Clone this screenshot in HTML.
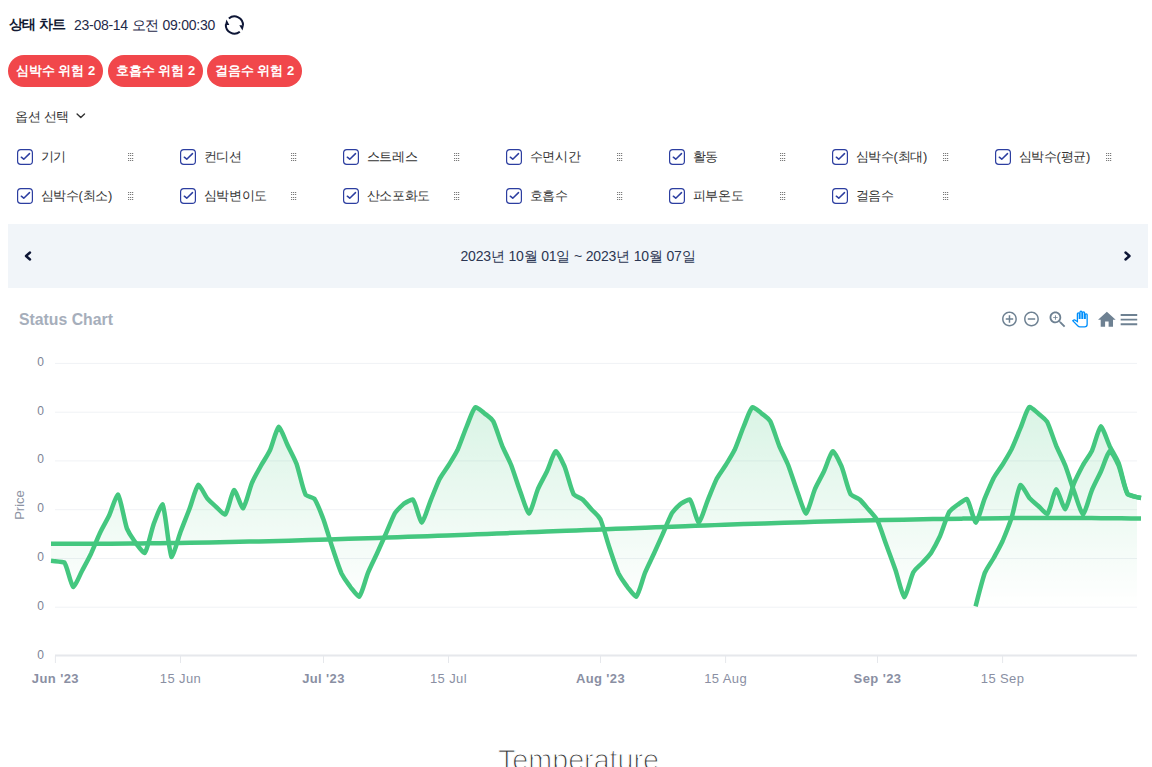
<!DOCTYPE html>
<html><head><meta charset="utf-8">
<style>
*{box-sizing:border-box;margin:0;padding:0}
html,body{width:1152px;height:767px;overflow:hidden;background:#fff}
body{font-family:"Liberation Sans",sans-serif;color:#1e293b;position:relative}
.abs{position:absolute;white-space:nowrap}
.title{left:9px;top:15px;font-size:14px;letter-spacing:-0.7px;font-weight:bold;color:#121a33;line-height:18px}
.date{left:74px;top:16px;font-size:14px;letter-spacing:-0.27px;color:#1f2a4a;line-height:18px}
.chip{position:absolute;top:55px;height:32px;border-radius:16px;background:#f1474b;color:#fff;font-weight:bold;font-size:13px;line-height:32px;text-align:center;white-space:nowrap}
.opt{left:15px;top:108px;font-size:13px;letter-spacing:-0.35px;color:#333;line-height:18px}
.lbl{position:absolute;font-size:13px;color:#333;line-height:18px;white-space:nowrap}
.bar{left:8px;top:224px;width:1140px;height:64px;background:#f1f5f9}
.drange{left:2px;width:1152px;top:247px;text-align:center;font-size:14px;letter-spacing:-0.17px;color:#2c3652;line-height:18px}
.ctitle{left:19px;top:311px;font-size:15.8px;font-weight:bold;color:#a6aebb;line-height:18px}
.temp{left:498px;top:744px;font-size:28.7px;color:#3a3a3a;-webkit-text-stroke:1.1px #fff;line-height:32px}
</style></head><body>
<div class="abs title">상태 차트</div>
<div class="abs date">23-08-14 오전 09:00:30</div>
<svg class="abs" style="left:222px;top:12px" width="25" height="26" viewBox="222 12 25 26">
<path d="M228.87,18.41 A8.6,8.6 0 0 1 242.99,25.45" fill="none" stroke="#0e1636" stroke-width="2"/>
<polygon points="239.3,25.2 243.9,25.2 242.5,30.6" fill="#0e1636"/>
<path d="M239.81,31.68 A8.6,8.6 0 0 1 225.81,24.55" fill="none" stroke="#0e1636" stroke-width="2"/>
<polygon points="225.0,24.9 229.3,24.9 226.5,19.5" fill="#0e1636"/>
</svg>
<div class="chip" style="left:8px;width:95px">심박수 위험 2</div>
<div class="chip" style="left:108px;width:95px">호흡수 위험 2</div>
<div class="chip" style="left:207px;width:95px">걸음수 위험 2</div>
<div class="abs opt">옵션 선택</div>
<svg class="abs" style="left:74px;top:110px" width="14" height="12" viewBox="74 110 14 12"><polyline points="77.1,113.9 80.8,117.5 84.5,113.9" fill="none" stroke="#333" stroke-width="1.4" stroke-linecap="round" stroke-linejoin="round"/></svg>
<svg class="abs" style="left:16px;top:148px" width="18" height="18" viewBox="-1 -1 18 18"><rect x="0.6" y="0.6" width="14.8" height="14.8" rx="3.2" fill="none" stroke="#2c3ea0" stroke-width="1.2"/><polyline points="4.3,8.2 6.75,10.2 12.5,4.6" fill="none" stroke="#2c3ea0" stroke-width="1.5" stroke-linecap="round" stroke-linejoin="round"/></svg><div class="lbl" style="left:40.5px;top:148px;letter-spacing:-0.3px">기기</div><svg class="abs" style="left:127px;top:152px" width="8" height="10" viewBox="0 0 8 10" fill="#7a7a7a"><rect x="1" y="1" width="1.2" height="1"/><rect x="1" y="3" width="1.2" height="1"/><rect x="1" y="6" width="1.2" height="1"/><rect x="1" y="8" width="1.2" height="1"/><rect x="3" y="1" width="1.2" height="1"/><rect x="3" y="3" width="1.2" height="1"/><rect x="3" y="6" width="1.2" height="1"/><rect x="3" y="8" width="1.2" height="1"/><rect x="5" y="1" width="1.2" height="1"/><rect x="5" y="3" width="1.2" height="1"/><rect x="5" y="6" width="1.2" height="1"/><rect x="5" y="8" width="1.2" height="1"/></svg><svg class="abs" style="left:179px;top:148px" width="18" height="18" viewBox="-1 -1 18 18"><rect x="0.6" y="0.6" width="14.8" height="14.8" rx="3.2" fill="none" stroke="#2c3ea0" stroke-width="1.2"/><polyline points="4.3,8.2 6.75,10.2 12.5,4.6" fill="none" stroke="#2c3ea0" stroke-width="1.5" stroke-linecap="round" stroke-linejoin="round"/></svg><div class="lbl" style="left:203.5px;top:148px;letter-spacing:-0.3px">컨디션</div><svg class="abs" style="left:290px;top:152px" width="8" height="10" viewBox="0 0 8 10" fill="#7a7a7a"><rect x="1" y="1" width="1.2" height="1"/><rect x="1" y="3" width="1.2" height="1"/><rect x="1" y="6" width="1.2" height="1"/><rect x="1" y="8" width="1.2" height="1"/><rect x="3" y="1" width="1.2" height="1"/><rect x="3" y="3" width="1.2" height="1"/><rect x="3" y="6" width="1.2" height="1"/><rect x="3" y="8" width="1.2" height="1"/><rect x="5" y="1" width="1.2" height="1"/><rect x="5" y="3" width="1.2" height="1"/><rect x="5" y="6" width="1.2" height="1"/><rect x="5" y="8" width="1.2" height="1"/></svg><svg class="abs" style="left:342px;top:148px" width="18" height="18" viewBox="-1 -1 18 18"><rect x="0.6" y="0.6" width="14.8" height="14.8" rx="3.2" fill="none" stroke="#2c3ea0" stroke-width="1.2"/><polyline points="4.3,8.2 6.75,10.2 12.5,4.6" fill="none" stroke="#2c3ea0" stroke-width="1.5" stroke-linecap="round" stroke-linejoin="round"/></svg><div class="lbl" style="left:366.5px;top:148px;letter-spacing:-0.3px">스트레스</div><svg class="abs" style="left:453px;top:152px" width="8" height="10" viewBox="0 0 8 10" fill="#7a7a7a"><rect x="1" y="1" width="1.2" height="1"/><rect x="1" y="3" width="1.2" height="1"/><rect x="1" y="6" width="1.2" height="1"/><rect x="1" y="8" width="1.2" height="1"/><rect x="3" y="1" width="1.2" height="1"/><rect x="3" y="3" width="1.2" height="1"/><rect x="3" y="6" width="1.2" height="1"/><rect x="3" y="8" width="1.2" height="1"/><rect x="5" y="1" width="1.2" height="1"/><rect x="5" y="3" width="1.2" height="1"/><rect x="5" y="6" width="1.2" height="1"/><rect x="5" y="8" width="1.2" height="1"/></svg><svg class="abs" style="left:505px;top:148px" width="18" height="18" viewBox="-1 -1 18 18"><rect x="0.6" y="0.6" width="14.8" height="14.8" rx="3.2" fill="none" stroke="#2c3ea0" stroke-width="1.2"/><polyline points="4.3,8.2 6.75,10.2 12.5,4.6" fill="none" stroke="#2c3ea0" stroke-width="1.5" stroke-linecap="round" stroke-linejoin="round"/></svg><div class="lbl" style="left:529.5px;top:148px;letter-spacing:-0.3px">수면시간</div><svg class="abs" style="left:616px;top:152px" width="8" height="10" viewBox="0 0 8 10" fill="#7a7a7a"><rect x="1" y="1" width="1.2" height="1"/><rect x="1" y="3" width="1.2" height="1"/><rect x="1" y="6" width="1.2" height="1"/><rect x="1" y="8" width="1.2" height="1"/><rect x="3" y="1" width="1.2" height="1"/><rect x="3" y="3" width="1.2" height="1"/><rect x="3" y="6" width="1.2" height="1"/><rect x="3" y="8" width="1.2" height="1"/><rect x="5" y="1" width="1.2" height="1"/><rect x="5" y="3" width="1.2" height="1"/><rect x="5" y="6" width="1.2" height="1"/><rect x="5" y="8" width="1.2" height="1"/></svg><svg class="abs" style="left:668px;top:148px" width="18" height="18" viewBox="-1 -1 18 18"><rect x="0.6" y="0.6" width="14.8" height="14.8" rx="3.2" fill="none" stroke="#2c3ea0" stroke-width="1.2"/><polyline points="4.3,8.2 6.75,10.2 12.5,4.6" fill="none" stroke="#2c3ea0" stroke-width="1.5" stroke-linecap="round" stroke-linejoin="round"/></svg><div class="lbl" style="left:692.5px;top:148px;letter-spacing:-0.3px">활동</div><svg class="abs" style="left:779px;top:152px" width="8" height="10" viewBox="0 0 8 10" fill="#7a7a7a"><rect x="1" y="1" width="1.2" height="1"/><rect x="1" y="3" width="1.2" height="1"/><rect x="1" y="6" width="1.2" height="1"/><rect x="1" y="8" width="1.2" height="1"/><rect x="3" y="1" width="1.2" height="1"/><rect x="3" y="3" width="1.2" height="1"/><rect x="3" y="6" width="1.2" height="1"/><rect x="3" y="8" width="1.2" height="1"/><rect x="5" y="1" width="1.2" height="1"/><rect x="5" y="3" width="1.2" height="1"/><rect x="5" y="6" width="1.2" height="1"/><rect x="5" y="8" width="1.2" height="1"/></svg><svg class="abs" style="left:831px;top:148px" width="18" height="18" viewBox="-1 -1 18 18"><rect x="0.6" y="0.6" width="14.8" height="14.8" rx="3.2" fill="none" stroke="#2c3ea0" stroke-width="1.2"/><polyline points="4.3,8.2 6.75,10.2 12.5,4.6" fill="none" stroke="#2c3ea0" stroke-width="1.5" stroke-linecap="round" stroke-linejoin="round"/></svg><div class="lbl" style="left:855.5px;top:148px;letter-spacing:-0.3px">심박수(최대)</div><svg class="abs" style="left:942px;top:152px" width="8" height="10" viewBox="0 0 8 10" fill="#7a7a7a"><rect x="1" y="1" width="1.2" height="1"/><rect x="1" y="3" width="1.2" height="1"/><rect x="1" y="6" width="1.2" height="1"/><rect x="1" y="8" width="1.2" height="1"/><rect x="3" y="1" width="1.2" height="1"/><rect x="3" y="3" width="1.2" height="1"/><rect x="3" y="6" width="1.2" height="1"/><rect x="3" y="8" width="1.2" height="1"/><rect x="5" y="1" width="1.2" height="1"/><rect x="5" y="3" width="1.2" height="1"/><rect x="5" y="6" width="1.2" height="1"/><rect x="5" y="8" width="1.2" height="1"/></svg><svg class="abs" style="left:994px;top:148px" width="18" height="18" viewBox="-1 -1 18 18"><rect x="0.6" y="0.6" width="14.8" height="14.8" rx="3.2" fill="none" stroke="#2c3ea0" stroke-width="1.2"/><polyline points="4.3,8.2 6.75,10.2 12.5,4.6" fill="none" stroke="#2c3ea0" stroke-width="1.5" stroke-linecap="round" stroke-linejoin="round"/></svg><div class="lbl" style="left:1018.5px;top:148px;letter-spacing:-0.3px">심박수(평균)</div><svg class="abs" style="left:1105px;top:152px" width="8" height="10" viewBox="0 0 8 10" fill="#7a7a7a"><rect x="1" y="1" width="1.2" height="1"/><rect x="1" y="3" width="1.2" height="1"/><rect x="1" y="6" width="1.2" height="1"/><rect x="1" y="8" width="1.2" height="1"/><rect x="3" y="1" width="1.2" height="1"/><rect x="3" y="3" width="1.2" height="1"/><rect x="3" y="6" width="1.2" height="1"/><rect x="3" y="8" width="1.2" height="1"/><rect x="5" y="1" width="1.2" height="1"/><rect x="5" y="3" width="1.2" height="1"/><rect x="5" y="6" width="1.2" height="1"/><rect x="5" y="8" width="1.2" height="1"/></svg><svg class="abs" style="left:16px;top:187px" width="18" height="18" viewBox="-1 -1 18 18"><rect x="0.6" y="0.6" width="14.8" height="14.8" rx="3.2" fill="none" stroke="#2c3ea0" stroke-width="1.2"/><polyline points="4.3,8.2 6.75,10.2 12.5,4.6" fill="none" stroke="#2c3ea0" stroke-width="1.5" stroke-linecap="round" stroke-linejoin="round"/></svg><div class="lbl" style="left:40.5px;top:187px;letter-spacing:-0.3px">심박수(최소)</div><svg class="abs" style="left:127px;top:191px" width="8" height="10" viewBox="0 0 8 10" fill="#7a7a7a"><rect x="1" y="1" width="1.2" height="1"/><rect x="1" y="3" width="1.2" height="1"/><rect x="1" y="6" width="1.2" height="1"/><rect x="1" y="8" width="1.2" height="1"/><rect x="3" y="1" width="1.2" height="1"/><rect x="3" y="3" width="1.2" height="1"/><rect x="3" y="6" width="1.2" height="1"/><rect x="3" y="8" width="1.2" height="1"/><rect x="5" y="1" width="1.2" height="1"/><rect x="5" y="3" width="1.2" height="1"/><rect x="5" y="6" width="1.2" height="1"/><rect x="5" y="8" width="1.2" height="1"/></svg><svg class="abs" style="left:179px;top:187px" width="18" height="18" viewBox="-1 -1 18 18"><rect x="0.6" y="0.6" width="14.8" height="14.8" rx="3.2" fill="none" stroke="#2c3ea0" stroke-width="1.2"/><polyline points="4.3,8.2 6.75,10.2 12.5,4.6" fill="none" stroke="#2c3ea0" stroke-width="1.5" stroke-linecap="round" stroke-linejoin="round"/></svg><div class="lbl" style="left:203.5px;top:187px;letter-spacing:-0.3px">심박변이도</div><svg class="abs" style="left:290px;top:191px" width="8" height="10" viewBox="0 0 8 10" fill="#7a7a7a"><rect x="1" y="1" width="1.2" height="1"/><rect x="1" y="3" width="1.2" height="1"/><rect x="1" y="6" width="1.2" height="1"/><rect x="1" y="8" width="1.2" height="1"/><rect x="3" y="1" width="1.2" height="1"/><rect x="3" y="3" width="1.2" height="1"/><rect x="3" y="6" width="1.2" height="1"/><rect x="3" y="8" width="1.2" height="1"/><rect x="5" y="1" width="1.2" height="1"/><rect x="5" y="3" width="1.2" height="1"/><rect x="5" y="6" width="1.2" height="1"/><rect x="5" y="8" width="1.2" height="1"/></svg><svg class="abs" style="left:342px;top:187px" width="18" height="18" viewBox="-1 -1 18 18"><rect x="0.6" y="0.6" width="14.8" height="14.8" rx="3.2" fill="none" stroke="#2c3ea0" stroke-width="1.2"/><polyline points="4.3,8.2 6.75,10.2 12.5,4.6" fill="none" stroke="#2c3ea0" stroke-width="1.5" stroke-linecap="round" stroke-linejoin="round"/></svg><div class="lbl" style="left:366.5px;top:187px;letter-spacing:-0.3px">산소포화도</div><svg class="abs" style="left:453px;top:191px" width="8" height="10" viewBox="0 0 8 10" fill="#7a7a7a"><rect x="1" y="1" width="1.2" height="1"/><rect x="1" y="3" width="1.2" height="1"/><rect x="1" y="6" width="1.2" height="1"/><rect x="1" y="8" width="1.2" height="1"/><rect x="3" y="1" width="1.2" height="1"/><rect x="3" y="3" width="1.2" height="1"/><rect x="3" y="6" width="1.2" height="1"/><rect x="3" y="8" width="1.2" height="1"/><rect x="5" y="1" width="1.2" height="1"/><rect x="5" y="3" width="1.2" height="1"/><rect x="5" y="6" width="1.2" height="1"/><rect x="5" y="8" width="1.2" height="1"/></svg><svg class="abs" style="left:505px;top:187px" width="18" height="18" viewBox="-1 -1 18 18"><rect x="0.6" y="0.6" width="14.8" height="14.8" rx="3.2" fill="none" stroke="#2c3ea0" stroke-width="1.2"/><polyline points="4.3,8.2 6.75,10.2 12.5,4.6" fill="none" stroke="#2c3ea0" stroke-width="1.5" stroke-linecap="round" stroke-linejoin="round"/></svg><div class="lbl" style="left:529.5px;top:187px;letter-spacing:-0.3px">호흡수</div><svg class="abs" style="left:616px;top:191px" width="8" height="10" viewBox="0 0 8 10" fill="#7a7a7a"><rect x="1" y="1" width="1.2" height="1"/><rect x="1" y="3" width="1.2" height="1"/><rect x="1" y="6" width="1.2" height="1"/><rect x="1" y="8" width="1.2" height="1"/><rect x="3" y="1" width="1.2" height="1"/><rect x="3" y="3" width="1.2" height="1"/><rect x="3" y="6" width="1.2" height="1"/><rect x="3" y="8" width="1.2" height="1"/><rect x="5" y="1" width="1.2" height="1"/><rect x="5" y="3" width="1.2" height="1"/><rect x="5" y="6" width="1.2" height="1"/><rect x="5" y="8" width="1.2" height="1"/></svg><svg class="abs" style="left:668px;top:187px" width="18" height="18" viewBox="-1 -1 18 18"><rect x="0.6" y="0.6" width="14.8" height="14.8" rx="3.2" fill="none" stroke="#2c3ea0" stroke-width="1.2"/><polyline points="4.3,8.2 6.75,10.2 12.5,4.6" fill="none" stroke="#2c3ea0" stroke-width="1.5" stroke-linecap="round" stroke-linejoin="round"/></svg><div class="lbl" style="left:692.5px;top:187px;letter-spacing:-0.3px">피부온도</div><svg class="abs" style="left:779px;top:191px" width="8" height="10" viewBox="0 0 8 10" fill="#7a7a7a"><rect x="1" y="1" width="1.2" height="1"/><rect x="1" y="3" width="1.2" height="1"/><rect x="1" y="6" width="1.2" height="1"/><rect x="1" y="8" width="1.2" height="1"/><rect x="3" y="1" width="1.2" height="1"/><rect x="3" y="3" width="1.2" height="1"/><rect x="3" y="6" width="1.2" height="1"/><rect x="3" y="8" width="1.2" height="1"/><rect x="5" y="1" width="1.2" height="1"/><rect x="5" y="3" width="1.2" height="1"/><rect x="5" y="6" width="1.2" height="1"/><rect x="5" y="8" width="1.2" height="1"/></svg><svg class="abs" style="left:831px;top:187px" width="18" height="18" viewBox="-1 -1 18 18"><rect x="0.6" y="0.6" width="14.8" height="14.8" rx="3.2" fill="none" stroke="#2c3ea0" stroke-width="1.2"/><polyline points="4.3,8.2 6.75,10.2 12.5,4.6" fill="none" stroke="#2c3ea0" stroke-width="1.5" stroke-linecap="round" stroke-linejoin="round"/></svg><div class="lbl" style="left:855.5px;top:187px;letter-spacing:-0.3px">걸음수</div><svg class="abs" style="left:942px;top:191px" width="8" height="10" viewBox="0 0 8 10" fill="#7a7a7a"><rect x="1" y="1" width="1.2" height="1"/><rect x="1" y="3" width="1.2" height="1"/><rect x="1" y="6" width="1.2" height="1"/><rect x="1" y="8" width="1.2" height="1"/><rect x="3" y="1" width="1.2" height="1"/><rect x="3" y="3" width="1.2" height="1"/><rect x="3" y="6" width="1.2" height="1"/><rect x="3" y="8" width="1.2" height="1"/><rect x="5" y="1" width="1.2" height="1"/><rect x="5" y="3" width="1.2" height="1"/><rect x="5" y="6" width="1.2" height="1"/><rect x="5" y="8" width="1.2" height="1"/></svg>
<div class="abs bar"></div>
<svg class="abs" style="left:20px;top:246px" width="16" height="20" viewBox="20 246 16 20"><polyline points="30,252.5 26,256 30,259.5" fill="none" stroke="#0e1636" stroke-width="2.4" stroke-linecap="round" stroke-linejoin="round"/></svg>
<svg class="abs" style="left:1120px;top:246px" width="16" height="20" viewBox="1120 246 16 20"><polyline points="1125.5,252.5 1129.5,256 1125.5,259.5" fill="none" stroke="#0e1636" stroke-width="2.4" stroke-linecap="round" stroke-linejoin="round"/></svg>
<div class="abs drange">2023년 10월 01일 ~ 2023년 10월 07일</div>
<div class="abs ctitle">Status Chart</div>
<svg class="abs" style="left:990px;top:300px" width="160" height="36" viewBox="990 300 160 36">
<g fill="#6e8192">
<path transform="translate(1000.6,310.1) scale(0.74)" d="M13 7h-2v4H7v2h4v4h2v-4h4v-2h-4V7zm-1-5C6.480 2 2 6.48 2 12s4.48 10 10 10 10-4.48 10-10S17.52 2 12 2zm0 18c-4.41 0-8-3.59-8-8s3.59-8 8-8 8 3.590 8 8-3.59 8-8 8z"/>
<path transform="translate(1022.6,310.1) scale(0.74)" d="M7 11v2h10v-2H7zm5-9C6.48 2 2 6.48 2 12s4.48 10 10 10 10-4.48 10-10S17.52 2 12 2zm0 18c-4.41 0-8-3.59-8-8s3.59-8 8-8 8 3.59 8 8-3.59 8-8 8z"/>
<g transform="translate(1046.85,308.85) scale(0.9)"><path d="M15.5 14h-.79l-.28-.27C15.41 12.59 16 11.11 16 9.5 16 5.91 13.09 3 9.5 3S3 5.91 3 9.5 5.91 16 9.5 16c1.61 0 3.09-.59 4.23-1.57l.27.28v.79l5 4.99L20.49 19l-4.99-5zm-6 0C7.01 14 5 11.99 5 9.5S7.01 5 9.5 5 14 7.01 14 9.5 11.99 14 9.5 14z"/><path d="M12 10h-2v2H9v-2H7V9h2V7h1v2h2v1z"/></g>
<path transform="translate(1096.3,309.2) scale(0.88)" d="M10 20v-6h4v6h5v-8h3L12 3 2 12h3v8z"/>
<path transform="translate(1117.9,308.6) scale(0.92)" d="M3 18h18v-2H3v2zm0-5h18v-2H3v2zm0-7v2h18V6H3z"/>
</g>
<path transform="translate(1072.2,311.2) scale(0.65)" fill="#fff" stroke="#008ffb" stroke-width="2" d="M23 5.5V20c0 2.2-1.8 4-4 4h-7.3c-1.08 0-2.1-.43-2.85-1.19L1 14.830s1.26-1.23 1.3-1.25c.22-.19.49-.29.79-.29.22 0 .42.06.6.16.04.01 4.31 2.46 4.31 2.46V4c0-.83.67-1.5 1.5-1.5S11 3.17 11 4v7h1V1.5c0-.83.67-1.5 1.5-1.5S15 .67 15 1.5V11h1V2.5c0-.83.67-1.5 1.5-1.5s1.5.67 1.5 1.5V11h1V5.5c0-.83.67-1.5 1.5-1.5s1.5.67 1.5 1.5z"/>
</svg>
<svg class="abs" style="left:0;top:0" width="1152" height="767" viewBox="0 0 1152 767">
<defs>
<linearGradient id="gM" x1="0" y1="407" x2="0" y2="606" gradientUnits="userSpaceOnUse">
<stop offset="0" stop-color="#333333"/>
<stop offset="1" stop-color="#000000"/>
</linearGradient>
<mask id="mF" maskUnits="userSpaceOnUse" x="0" y="0" width="1152" height="767"><rect x="51" y="380" width="1086" height="300" fill="url(#gM)"/></mask>
</defs>
<line x1="55" x2="1137" y1="363.4" y2="363.4" stroke="#f0f2f5" stroke-width="1"/><line x1="55" x2="1137" y1="412.2" y2="412.2" stroke="#f0f2f5" stroke-width="1"/><line x1="55" x2="1137" y1="460.9" y2="460.9" stroke="#f0f2f5" stroke-width="1"/><line x1="55" x2="1137" y1="509.7" y2="509.7" stroke="#f0f2f5" stroke-width="1"/><line x1="55" x2="1137" y1="558.5" y2="558.5" stroke="#f0f2f5" stroke-width="1"/><line x1="55" x2="1137" y1="607.2" y2="607.2" stroke="#f0f2f5" stroke-width="1"/>
<line x1="55" x2="1137" y1="655.5" y2="655.5" stroke="#e6e8ec" stroke-width="2.2"/>
<line x1="55.4" x2="55.4" y1="656" y2="663" stroke="#e6e8ec" stroke-width="1"/><line x1="180.5" x2="180.5" y1="656" y2="663" stroke="#e6e8ec" stroke-width="1"/><line x1="323.5" x2="323.5" y1="656" y2="663" stroke="#e6e8ec" stroke-width="1"/><line x1="448.5" x2="448.5" y1="656" y2="663" stroke="#e6e8ec" stroke-width="1"/><line x1="600.5" x2="600.5" y1="656" y2="663" stroke="#e6e8ec" stroke-width="1"/><line x1="725.6" x2="725.6" y1="656" y2="663" stroke="#e6e8ec" stroke-width="1"/><line x1="877.5" x2="877.5" y1="656" y2="663" stroke="#e6e8ec" stroke-width="1"/><line x1="1002.6" x2="1002.6" y1="656" y2="663" stroke="#e6e8ec" stroke-width="1"/>
<g font-family="Liberation Sans, sans-serif" font-size="12" fill="#7c8396"><text x="44" y="365.9" text-anchor="end">0</text><text x="44" y="414.7" text-anchor="end">0</text><text x="44" y="463.4" text-anchor="end">0</text><text x="44" y="512.2" text-anchor="end">0</text><text x="44" y="561.0" text-anchor="end">0</text><text x="44" y="609.8" text-anchor="end">0</text><text x="44" y="658.5" text-anchor="end">0</text></g>
<g font-family="Liberation Sans, sans-serif" font-size="13" letter-spacing="0.4" fill="#8a8fa3"><text x="55.4" y="683" text-anchor="middle" font-weight="bold">Jun '23</text><text x="180.5" y="683" text-anchor="middle" font-weight="normal">15 Jun</text><text x="323.5" y="683" text-anchor="middle" font-weight="bold">Jul '23</text><text x="448.5" y="683" text-anchor="middle" font-weight="normal">15 Jul</text><text x="600.5" y="683" text-anchor="middle" font-weight="bold">Aug '23</text><text x="725.6" y="683" text-anchor="middle" font-weight="normal">15 Aug</text><text x="877.5" y="683" text-anchor="middle" font-weight="bold">Sep '23</text><text x="1002.6" y="683" text-anchor="middle" font-weight="normal">15 Sep</text></g>
<text transform="translate(24,505) rotate(-90)" text-anchor="middle" font-family="Liberation Sans, sans-serif" font-size="13" fill="#8c93a3">Price</text>
<g mask="url(#mF)" fill="#44c77f"><path d="M51.00,560.70C55.45,561.12 59.89,561.54 64.34,562.50C67.31,566.25 70.29,583.73 73.27,587.00C76.25,584.80 79.23,576.06 82.21,570.50C85.19,564.86 88.17,559.46 91.14,553.40C94.12,546.86 97.10,539.22 100.08,532.70C103.06,526.69 106.04,521.86 109.02,515.80C111.99,509.16 114.97,497.43 117.95,494.60C120.93,499.12 123.91,519.14 126.89,528.50C129.87,535.27 132.85,538.62 135.82,543.00C138.80,546.78 141.78,551.67 144.76,553.00C147.74,549.12 150.72,532.64 153.70,523.90C156.67,516.44 159.65,507.00 162.63,504.40C165.61,511.41 168.59,549.99 171.57,557.00C174.55,553.67 177.53,540.13 180.50,532.00C183.48,524.13 186.46,516.78 189.44,509.00C192.42,501.08 195.40,488.11 198.38,484.90C201.35,486.71 204.33,494.48 207.31,498.50C210.29,501.84 213.27,504.26 216.25,507.00C219.23,509.62 222.21,513.59 225.18,514.60C228.16,511.32 231.14,493.28 234.12,490.00C237.10,492.43 240.08,505.77 243.06,508.20C246.03,504.81 249.01,490.43 251.99,482.80C254.97,476.29 257.95,471.29 260.93,465.80C263.91,460.55 266.89,456.52 269.86,450.60C272.84,443.55 275.82,430.06 278.80,426.90C281.78,429.38 284.76,439.29 287.74,445.50C290.71,451.72 293.69,456.79 296.67,464.20C299.65,473.19 302.63,488.95 305.61,494.70C308.59,496.94 311.57,496.66 314.54,498.90C317.52,503.33 320.50,511.86 323.48,519.50C326.46,528.16 329.44,538.66 332.42,547.80C335.39,556.56 338.37,565.91 341.35,573.20C344.33,578.91 347.31,582.65 350.29,586.80C353.27,590.45 356.25,595.29 359.22,596.60C362.20,593.37 365.18,579.96 368.16,572.40C371.14,565.52 374.12,559.76 377.10,553.30C380.07,546.72 383.05,540.00 386.03,533.30C389.01,526.56 391.99,518.67 394.97,513.00C397.95,508.80 400.93,506.29 403.90,503.70C406.88,501.79 409.86,500.06 412.84,499.50C415.82,502.57 418.80,519.43 421.78,522.50C424.75,519.54 427.73,507.62 430.71,500.30C433.69,493.09 436.67,485.25 439.65,478.90C442.63,473.59 445.61,469.99 448.58,465.30C451.56,460.39 454.54,455.96 457.52,450.10C460.50,443.19 463.48,434.37 466.46,427.00C469.43,420.07 472.41,409.84 475.39,407.20C478.37,408.00 481.35,410.99 484.33,413.20C487.31,415.69 490.29,416.98 493.26,421.30C496.24,427.81 499.22,438.16 502.20,445.80C505.18,452.73 508.16,457.92 511.14,465.00C514.11,472.99 517.09,482.68 520.07,491.00C523.05,498.85 526.03,510.50 529.01,513.50C531.99,510.23 534.97,496.47 537.94,489.00C540.92,482.47 543.90,477.61 546.88,471.50C549.86,465.01 552.84,453.91 555.82,451.20C558.79,453.31 561.77,460.57 564.75,467.00C567.73,474.97 570.71,488.71 573.69,494.40C576.67,497.12 579.65,497.31 582.62,499.50C585.60,502.34 588.58,506.17 591.56,509.50C594.54,512.83 597.52,514.34 600.50,519.50C603.47,527.10 606.45,538.66 609.43,547.80C612.41,556.56 615.39,565.91 618.37,573.20C621.35,578.91 624.33,582.65 627.30,586.80C630.28,590.45 633.26,595.29 636.24,596.60C639.22,593.37 642.20,579.96 645.18,572.40C648.15,565.52 651.13,559.76 654.11,553.30C657.09,546.72 660.07,540.00 663.05,533.30C666.03,526.56 669.01,518.67 671.98,513.00C674.96,508.80 677.94,506.29 680.92,503.70C683.90,501.79 686.88,500.06 689.86,499.50C692.83,502.57 695.81,519.43 698.79,522.50C701.77,519.54 704.75,507.62 707.73,500.30C710.71,493.09 713.69,485.25 716.66,478.90C719.64,473.59 722.62,469.99 725.60,465.30C728.58,460.39 731.56,455.96 734.54,450.10C737.51,443.19 740.49,434.37 743.47,427.00C746.45,420.07 749.43,409.84 752.41,407.20C755.39,408.00 758.37,410.99 761.34,413.20C764.32,415.69 767.30,416.98 770.28,421.30C773.26,427.81 776.24,438.16 779.22,445.80C782.19,452.73 785.17,457.92 788.15,465.00C791.13,472.99 794.11,482.68 797.09,491.00C800.07,498.85 803.05,510.50 806.02,513.50C809.00,510.23 811.98,496.47 814.96,489.00C817.94,482.47 820.92,477.61 823.90,471.50C826.87,465.01 829.85,453.91 832.83,451.20C835.81,453.31 838.79,460.57 841.77,467.00C844.75,474.97 847.73,488.71 850.70,494.40C853.68,497.12 856.66,497.31 859.64,499.50C862.62,502.34 865.60,506.05 868.58,509.50C871.55,513.11 874.53,515.63 877.51,520.70C880.49,527.56 883.47,537.11 886.45,545.30C889.43,553.48 892.41,561.36 895.38,569.80C898.36,578.60 901.34,593.37 904.32,597.00C907.30,593.72 910.28,579.08 913.26,572.40C916.23,567.75 919.21,566.20 922.19,563.00C925.17,559.70 928.15,556.95 931.13,552.90C934.11,547.95 937.09,542.32 940.06,536.00C943.04,528.76 946.02,518.41 949.00,512.20C951.98,508.15 954.96,506.93 957.94,504.60C960.91,502.53 963.89,499.75 966.87,499.00C969.85,502.13 972.83,519.37 975.81,522.50C978.79,519.29 981.77,506.06 984.74,498.40C987.72,491.23 990.70,484.11 993.68,478.00C996.66,472.81 999.64,469.18 1002.62,464.50C1005.59,459.58 1008.57,454.89 1011.55,449.20C1014.53,442.72 1017.51,435.06 1020.49,428.00C1023.47,420.96 1026.45,409.71 1029.42,406.90C1032.40,407.79 1035.38,411.19 1038.36,413.60C1041.34,416.25 1044.32,417.75 1047.30,422.10C1050.27,428.48 1053.25,438.32 1056.23,445.80C1059.21,452.72 1062.19,458.13 1065.17,465.30C1068.15,473.36 1071.13,483.10 1074.10,491.50C1077.08,499.46 1080.06,511.35 1083.04,514.40C1086.02,511.15 1089.00,497.54 1091.98,490.00C1094.95,483.24 1097.93,477.87 1100.91,471.50C1103.89,464.87 1106.87,453.73 1109.85,451.00C1112.83,453.00 1115.81,459.66 1118.78,466.00C1121.76,474.13 1124.74,489.64 1127.72,494.40C1132.15,496.32 1136.57,497.16 1141.00,498.00L1141.00,518.62C1134.39,518.53 1127.79,518.44 1121.18,518.36C1114.58,518.29 1107.97,518.22 1101.36,518.16C1094.76,518.12 1088.15,518.08 1081.55,518.04C1074.94,518.02 1068.33,517.99 1061.73,517.98C1055.12,517.99 1048.52,517.99 1041.91,517.99C1035.30,518.01 1028.70,518.03 1022.09,518.06C1015.48,518.10 1008.88,518.14 1002.27,518.19C995.67,518.25 989.06,518.31 982.45,518.38C975.85,518.45 969.24,518.53 962.64,518.62C956.03,518.71 949.42,518.81 942.82,518.91C936.21,519.02 929.61,519.13 923.00,519.25C916.39,519.37 909.79,519.50 903.18,519.63C896.58,519.77 889.97,519.92 883.36,520.06C876.76,520.22 870.15,520.37 863.55,520.54C856.94,520.70 850.33,520.87 843.73,521.05C837.12,521.22 830.52,521.41 823.91,521.59C817.30,521.78 810.70,521.97 804.09,522.17C797.48,522.37 790.88,522.58 784.27,522.78C777.67,522.99 771.06,523.20 764.45,523.42C757.85,523.64 751.24,523.86 744.64,524.09C738.03,524.31 731.42,524.54 724.82,524.77C718.21,525.01 711.61,525.24 705.00,525.48C698.39,525.72 691.79,525.97 685.18,526.21C678.58,526.46 671.97,526.70 665.36,526.95C658.76,527.20 652.15,527.46 645.55,527.71C638.94,527.96 632.33,528.22 625.73,528.47C619.12,528.73 612.52,528.99 605.91,529.25C599.30,529.51 592.70,529.77 586.09,530.03C579.48,530.29 572.88,530.55 566.27,530.81C559.67,531.07 553.06,531.33 546.45,531.59C539.85,531.85 533.24,532.11 526.64,532.37C520.03,532.63 513.42,532.89 506.82,533.15C500.21,533.41 493.61,533.66 487.00,533.92C480.39,534.17 473.79,534.42 467.18,534.68C460.58,534.93 453.97,535.17 447.36,535.42C440.76,535.67 434.15,535.91 427.55,536.15C420.94,536.39 414.33,536.63 407.73,536.86C401.12,537.10 394.52,537.33 387.91,537.56C381.30,537.78 374.70,538.01 368.09,538.23C361.48,538.44 354.88,538.66 348.27,538.87C341.67,539.08 335.06,539.29 328.45,539.49C321.85,539.69 315.24,539.88 308.64,540.07C302.03,540.26 295.42,540.45 288.82,540.63C282.21,540.80 275.61,540.98 269.00,541.14C262.39,541.31 255.79,541.47 249.18,541.62C242.58,541.77 235.97,541.92 229.36,542.06C222.76,542.20 216.15,542.33 209.55,542.46C202.94,542.58 196.33,542.70 189.73,542.81C183.12,542.91 176.52,543.01 169.91,543.11C163.30,543.20 156.70,543.28 150.09,543.36C143.48,543.43 136.88,543.50 130.27,543.56C123.67,543.61 117.06,543.66 110.45,543.70C103.85,543.73 97.24,543.76 90.64,543.78C84.03,543.79 77.42,543.80 70.82,543.80C64.21,543.79 57.61,543.78 51.00,543.76Z"/>
<path d="M975.60,606.40C978.65,594.35 981.70,582.31 984.74,573.00C987.72,566.26 990.70,563.20 993.68,558.00C996.66,552.53 999.64,547.27 1002.62,541.00C1005.59,533.93 1008.57,526.67 1011.55,518.00C1014.53,508.00 1017.51,489.40 1020.49,485.00C1023.47,486.73 1026.45,494.17 1029.42,498.00C1032.40,501.17 1035.38,503.33 1038.36,506.00C1041.34,508.67 1044.32,512.93 1047.30,514.00C1050.27,510.73 1053.25,492.77 1056.23,489.50C1059.21,492.10 1062.19,506.40 1065.17,509.00C1068.15,505.53 1071.13,490.87 1074.10,483.00C1077.08,476.20 1080.06,470.63 1083.04,465.00C1086.02,459.86 1089.00,456.46 1091.98,450.70C1094.95,443.62 1097.93,429.73 1100.91,426.50C1103.89,429.17 1106.87,440.13 1109.85,446.50C1112.83,452.47 1115.81,456.48 1118.78,463.50C1121.76,472.32 1124.74,488.86 1127.72,494.00C1132.15,496.13 1136.57,497.07 1141.00,498.00L1141,606.4L975.6,606.4Z"/></g>
<path d="M51.00,543.76C57.61,543.78 64.21,543.79 70.82,543.80C77.42,543.80 84.03,543.79 90.64,543.78C97.24,543.76 103.85,543.73 110.45,543.70C117.06,543.66 123.67,543.61 130.27,543.56C136.88,543.50 143.48,543.43 150.09,543.36C156.70,543.28 163.30,543.20 169.91,543.11C176.52,543.01 183.12,542.91 189.73,542.81C196.33,542.70 202.94,542.58 209.55,542.46C216.15,542.33 222.76,542.20 229.36,542.06C235.97,541.92 242.58,541.77 249.18,541.62C255.79,541.47 262.39,541.31 269.00,541.14C275.61,540.98 282.21,540.80 288.82,540.63C295.42,540.45 302.03,540.26 308.64,540.07C315.24,539.88 321.85,539.69 328.45,539.49C335.06,539.29 341.67,539.08 348.27,538.87C354.88,538.66 361.48,538.44 368.09,538.23C374.70,538.01 381.30,537.78 387.91,537.56C394.52,537.33 401.12,537.10 407.73,536.86C414.33,536.63 420.94,536.39 427.55,536.15C434.15,535.91 440.76,535.67 447.36,535.42C453.97,535.17 460.58,534.93 467.18,534.68C473.79,534.42 480.39,534.17 487.00,533.92C493.61,533.66 500.21,533.41 506.82,533.15C513.42,532.89 520.03,532.63 526.64,532.37C533.24,532.11 539.85,531.85 546.45,531.59C553.06,531.33 559.67,531.07 566.27,530.81C572.88,530.55 579.48,530.29 586.09,530.03C592.70,529.77 599.30,529.51 605.91,529.25C612.52,528.99 619.12,528.73 625.73,528.47C632.33,528.22 638.94,527.96 645.55,527.71C652.15,527.46 658.76,527.20 665.36,526.95C671.97,526.70 678.58,526.46 685.18,526.21C691.79,525.97 698.39,525.72 705.00,525.48C711.61,525.24 718.21,525.01 724.82,524.77C731.42,524.54 738.03,524.31 744.64,524.09C751.24,523.86 757.85,523.64 764.45,523.42C771.06,523.20 777.67,522.99 784.27,522.78C790.88,522.58 797.48,522.37 804.09,522.17C810.70,521.97 817.30,521.78 823.91,521.59C830.52,521.41 837.12,521.22 843.73,521.05C850.33,520.87 856.94,520.70 863.55,520.54C870.15,520.37 876.76,520.22 883.36,520.06C889.97,519.92 896.58,519.77 903.18,519.63C909.79,519.50 916.39,519.37 923.00,519.25C929.61,519.13 936.21,519.02 942.82,518.91C949.42,518.81 956.03,518.71 962.64,518.62C969.24,518.53 975.85,518.45 982.45,518.38C989.06,518.31 995.67,518.25 1002.27,518.19C1008.88,518.14 1015.48,518.10 1022.09,518.06C1028.70,518.03 1035.30,518.01 1041.91,517.99C1048.52,517.99 1055.12,517.99 1061.73,517.98C1068.33,517.99 1074.94,518.02 1081.55,518.04C1088.15,518.08 1094.76,518.12 1101.36,518.16C1107.97,518.22 1114.58,518.29 1121.18,518.36C1127.79,518.44 1134.39,518.53 1141.00,518.62" fill="none" stroke="#44c77f" stroke-width="4.5" stroke-linejoin="round"/>
<path d="M51.00,560.70C55.45,561.12 59.89,561.54 64.34,562.50C67.31,566.25 70.29,583.73 73.27,587.00C76.25,584.80 79.23,576.06 82.21,570.50C85.19,564.86 88.17,559.46 91.14,553.40C94.12,546.86 97.10,539.22 100.08,532.70C103.06,526.69 106.04,521.86 109.02,515.80C111.99,509.16 114.97,497.43 117.95,494.60C120.93,499.12 123.91,519.14 126.89,528.50C129.87,535.27 132.85,538.62 135.82,543.00C138.80,546.78 141.78,551.67 144.76,553.00C147.74,549.12 150.72,532.64 153.70,523.90C156.67,516.44 159.65,507.00 162.63,504.40C165.61,511.41 168.59,549.99 171.57,557.00C174.55,553.67 177.53,540.13 180.50,532.00C183.48,524.13 186.46,516.78 189.44,509.00C192.42,501.08 195.40,488.11 198.38,484.90C201.35,486.71 204.33,494.48 207.31,498.50C210.29,501.84 213.27,504.26 216.25,507.00C219.23,509.62 222.21,513.59 225.18,514.60C228.16,511.32 231.14,493.28 234.12,490.00C237.10,492.43 240.08,505.77 243.06,508.20C246.03,504.81 249.01,490.43 251.99,482.80C254.97,476.29 257.95,471.29 260.93,465.80C263.91,460.55 266.89,456.52 269.86,450.60C272.84,443.55 275.82,430.06 278.80,426.90C281.78,429.38 284.76,439.29 287.74,445.50C290.71,451.72 293.69,456.79 296.67,464.20C299.65,473.19 302.63,488.95 305.61,494.70C308.59,496.94 311.57,496.66 314.54,498.90C317.52,503.33 320.50,511.86 323.48,519.50C326.46,528.16 329.44,538.66 332.42,547.80C335.39,556.56 338.37,565.91 341.35,573.20C344.33,578.91 347.31,582.65 350.29,586.80C353.27,590.45 356.25,595.29 359.22,596.60C362.20,593.37 365.18,579.96 368.16,572.40C371.14,565.52 374.12,559.76 377.10,553.30C380.07,546.72 383.05,540.00 386.03,533.30C389.01,526.56 391.99,518.67 394.97,513.00C397.95,508.80 400.93,506.29 403.90,503.70C406.88,501.79 409.86,500.06 412.84,499.50C415.82,502.57 418.80,519.43 421.78,522.50C424.75,519.54 427.73,507.62 430.71,500.30C433.69,493.09 436.67,485.25 439.65,478.90C442.63,473.59 445.61,469.99 448.58,465.30C451.56,460.39 454.54,455.96 457.52,450.10C460.50,443.19 463.48,434.37 466.46,427.00C469.43,420.07 472.41,409.84 475.39,407.20C478.37,408.00 481.35,410.99 484.33,413.20C487.31,415.69 490.29,416.98 493.26,421.30C496.24,427.81 499.22,438.16 502.20,445.80C505.18,452.73 508.16,457.92 511.14,465.00C514.11,472.99 517.09,482.68 520.07,491.00C523.05,498.85 526.03,510.50 529.01,513.50C531.99,510.23 534.97,496.47 537.94,489.00C540.92,482.47 543.90,477.61 546.88,471.50C549.86,465.01 552.84,453.91 555.82,451.20C558.79,453.31 561.77,460.57 564.75,467.00C567.73,474.97 570.71,488.71 573.69,494.40C576.67,497.12 579.65,497.31 582.62,499.50C585.60,502.34 588.58,506.17 591.56,509.50C594.54,512.83 597.52,514.34 600.50,519.50C603.47,527.10 606.45,538.66 609.43,547.80C612.41,556.56 615.39,565.91 618.37,573.20C621.35,578.91 624.33,582.65 627.30,586.80C630.28,590.45 633.26,595.29 636.24,596.60C639.22,593.37 642.20,579.96 645.18,572.40C648.15,565.52 651.13,559.76 654.11,553.30C657.09,546.72 660.07,540.00 663.05,533.30C666.03,526.56 669.01,518.67 671.98,513.00C674.96,508.80 677.94,506.29 680.92,503.70C683.90,501.79 686.88,500.06 689.86,499.50C692.83,502.57 695.81,519.43 698.79,522.50C701.77,519.54 704.75,507.62 707.73,500.30C710.71,493.09 713.69,485.25 716.66,478.90C719.64,473.59 722.62,469.99 725.60,465.30C728.58,460.39 731.56,455.96 734.54,450.10C737.51,443.19 740.49,434.37 743.47,427.00C746.45,420.07 749.43,409.84 752.41,407.20C755.39,408.00 758.37,410.99 761.34,413.20C764.32,415.69 767.30,416.98 770.28,421.30C773.26,427.81 776.24,438.16 779.22,445.80C782.19,452.73 785.17,457.92 788.15,465.00C791.13,472.99 794.11,482.68 797.09,491.00C800.07,498.85 803.05,510.50 806.02,513.50C809.00,510.23 811.98,496.47 814.96,489.00C817.94,482.47 820.92,477.61 823.90,471.50C826.87,465.01 829.85,453.91 832.83,451.20C835.81,453.31 838.79,460.57 841.77,467.00C844.75,474.97 847.73,488.71 850.70,494.40C853.68,497.12 856.66,497.31 859.64,499.50C862.62,502.34 865.60,506.05 868.58,509.50C871.55,513.11 874.53,515.63 877.51,520.70C880.49,527.56 883.47,537.11 886.45,545.30C889.43,553.48 892.41,561.36 895.38,569.80C898.36,578.60 901.34,593.37 904.32,597.00C907.30,593.72 910.28,579.08 913.26,572.40C916.23,567.75 919.21,566.20 922.19,563.00C925.17,559.70 928.15,556.95 931.13,552.90C934.11,547.95 937.09,542.32 940.06,536.00C943.04,528.76 946.02,518.41 949.00,512.20C951.98,508.15 954.96,506.93 957.94,504.60C960.91,502.53 963.89,499.75 966.87,499.00C969.85,502.13 972.83,519.37 975.81,522.50C978.79,519.29 981.77,506.06 984.74,498.40C987.72,491.23 990.70,484.11 993.68,478.00C996.66,472.81 999.64,469.18 1002.62,464.50C1005.59,459.58 1008.57,454.89 1011.55,449.20C1014.53,442.72 1017.51,435.06 1020.49,428.00C1023.47,420.96 1026.45,409.71 1029.42,406.90C1032.40,407.79 1035.38,411.19 1038.36,413.60C1041.34,416.25 1044.32,417.75 1047.30,422.10C1050.27,428.48 1053.25,438.32 1056.23,445.80C1059.21,452.72 1062.19,458.13 1065.17,465.30C1068.15,473.36 1071.13,483.10 1074.10,491.50C1077.08,499.46 1080.06,511.35 1083.04,514.40C1086.02,511.15 1089.00,497.54 1091.98,490.00C1094.95,483.24 1097.93,477.87 1100.91,471.50C1103.89,464.87 1106.87,453.73 1109.85,451.00C1112.83,453.00 1115.81,459.66 1118.78,466.00C1121.76,474.13 1124.74,489.64 1127.72,494.40C1132.15,496.32 1136.57,497.16 1141.00,498.00" fill="none" stroke="#44c77f" stroke-width="4.5" stroke-linejoin="round"/>
<path d="M975.60,606.40C978.65,594.35 981.70,582.31 984.74,573.00C987.72,566.26 990.70,563.20 993.68,558.00C996.66,552.53 999.64,547.27 1002.62,541.00C1005.59,533.93 1008.57,526.67 1011.55,518.00C1014.53,508.00 1017.51,489.40 1020.49,485.00C1023.47,486.73 1026.45,494.17 1029.42,498.00C1032.40,501.17 1035.38,503.33 1038.36,506.00C1041.34,508.67 1044.32,512.93 1047.30,514.00C1050.27,510.73 1053.25,492.77 1056.23,489.50C1059.21,492.10 1062.19,506.40 1065.17,509.00C1068.15,505.53 1071.13,490.87 1074.10,483.00C1077.08,476.20 1080.06,470.63 1083.04,465.00C1086.02,459.86 1089.00,456.46 1091.98,450.70C1094.95,443.62 1097.93,429.73 1100.91,426.50C1103.89,429.17 1106.87,440.13 1109.85,446.50C1112.83,452.47 1115.81,456.48 1118.78,463.50C1121.76,472.32 1124.74,488.86 1127.72,494.00C1132.15,496.13 1136.57,497.07 1141.00,498.00" fill="none" stroke="#44c77f" stroke-width="4.5" stroke-linejoin="round"/>
</svg>
<div class="abs temp">Temperature</div>
</body></html>
